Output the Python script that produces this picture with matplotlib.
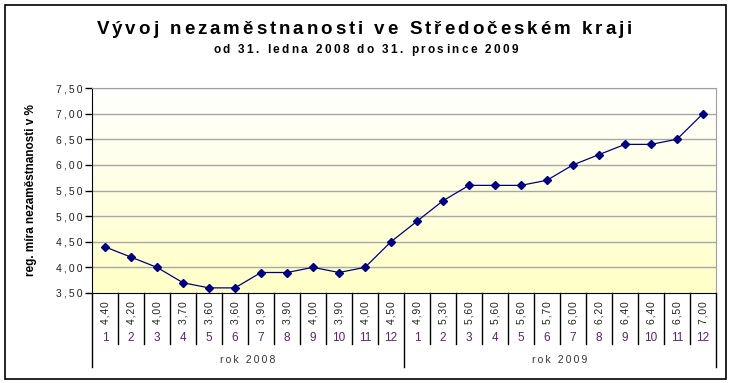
import numpy as np
import matplotlib
matplotlib.use("Agg")
import matplotlib.pyplot as plt
import matplotlib.transforms as mtransforms
from matplotlib.font_manager import FontProperties
from matplotlib.patches import Rectangle

plt.rcParams['font.family'] = ['Liberation Sans', 'DejaVu Sans']

# data
title = "Vývoj nezaměstnanosti ve Středočeském kraji"
subtitle = "od 31. ledna 2008 do 31. prosince 2009"
ylabel = "reg. míra nezaměstnanosti v %"
years = ["rok 2008", "rok 2009"]
months = [str(m) for m in range(1, 13)]
rate_2008 = [4.40, 4.20, 4.00, 3.70, 3.60, 3.60, 3.90, 3.90, 4.00, 3.90, 4.00, 4.50]
rate_2009 = [4.90, 5.30, 5.60, 5.60, 5.60, 5.70, 6.00, 6.20, 6.40, 6.40, 6.50, 7.00]
yticks = [3.5, 4.0, 4.5, 5.0, 5.5, 6.0, 6.5, 7.0, 7.5]

W, H = 732, 383
fig = plt.figure(figsize=(W / 100, H / 100), dpi=100)
fig.patch.set_facecolor('white')

# outer frame
fig.patches.append(Rectangle((5 / W, 4 / H), 721 / W, 374 / H, transform=fig.transFigure,
                             fill=False, edgecolor='black', linewidth=1.2))

# plot area in pixels
L, R, T, B = 92, 716, 88, 293
ax = fig.add_axes([L / W, (H - B) / H, (R - L) / W, (B - T) / H])

values = rate_2008 + rate_2009
x = np.arange(len(values))
ax.set_xlim(-0.5, len(values) - 0.5)
ax.set_ylim(3.5, 7.5)

# white (top) -> light yellow (bottom) gradient
grad = np.linspace(0, 1, 256).reshape(-1, 1)
top = np.array([1.0, 1.0, 1.0])
bot = np.array([1.0, 1.0, 0.78])
img = top + (bot - top) * grad[:, :, None]
ax.imshow(img, extent=[-0.5, len(values) - 0.5, 3.5, 7.5], origin='upper',
          aspect='auto', zorder=0)

for v in yticks[1:]:
    ax.axhline(v, color='#a8a8a8', linewidth=1.0, zorder=1)

ax.plot(x, values, color='#000080', linewidth=0.9, marker='D', markersize=4,
        markeredgecolor='#000080', zorder=3)

for side in ['top', 'right']:
    ax.spines[side].set_color('#a0a0a0')
ax.spines['left'].set_color('black')
ax.spines['bottom'].set_color('black')
ax.set_xticks([])
ax.set_yticks(yticks)
ax.set_yticklabels(['\u2009'.join(f"{v:.2f}".replace('.', ',')) for v in yticks],
                   fontsize=7.5, color='#222222')
ax.tick_params(axis='y', length=5, width=1, color='black', pad=2)

ax.text(-0.098, 0.5, ylabel, transform=ax.transAxes, rotation=90, fontsize=8.5,
        fontweight='bold', ha='center', va='center', color='black')

# data table below the axis
def fy(py):
    return (H - py) / H

tr = mtransforms.blended_transform_factory(ax.transData, fig.transFigure)
n = len(values)
for k in range(n + 1):
    xe = k - 0.5
    long_line = k in (0, 12, n)
    ax.plot([xe, xe], [fy(B), fy(367 if long_line else 344)], transform=tr,
            color='black', linewidth=1.0, clip_on=False)
for i, v in enumerate(values):
    lab = f"{v:.2f}".replace('.', ',')
    ax.text(i, fy(313), '\u200a'.join(lab), transform=tr, rotation=90, fontsize=7.5,
            ha='center', va='center', color='#222222')
    ax.text(i, fy(338), months[i % 12], transform=tr, fontsize=8.5,
            ha='center', va='center', color='#602070')
for j, yr in enumerate(years):
    ax.text(j * 12 + 5.5, fy(360), '\u2009'.join(yr), transform=tr, fontsize=7.5,
            ha='center', va='center', color='#333344')

# letter-spaced titles
def spaced_text(s, x0, x1, y, size):
    r = fig.canvas.get_renderer()
    fp = FontProperties(family=['Liberation Sans', 'DejaVu Sans'], weight='bold', size=size)
    ref = r.get_text_width_height_descent("aa", fp, ismath=False)[0]
    widths = []
    for c in s:
        widths.append(r.get_text_width_height_descent("a" + c + "a", fp, ismath=False)[0] - ref)
    gap = ((x1 - x0) - sum(widths)) / (len(s) - 1)
    xp = x0
    for c, w in zip(s, widths):
        fig.text(xp / W, fy(y), c, fontproperties=fp, ha='left', va='baseline', color='black')
        xp += w + gap

spaced_text(title, 97, 632, 34, 13.5)
spaced_text(subtitle, 213, 518, 53, 8.5)

fig.savefig("out.png", dpi=100)
